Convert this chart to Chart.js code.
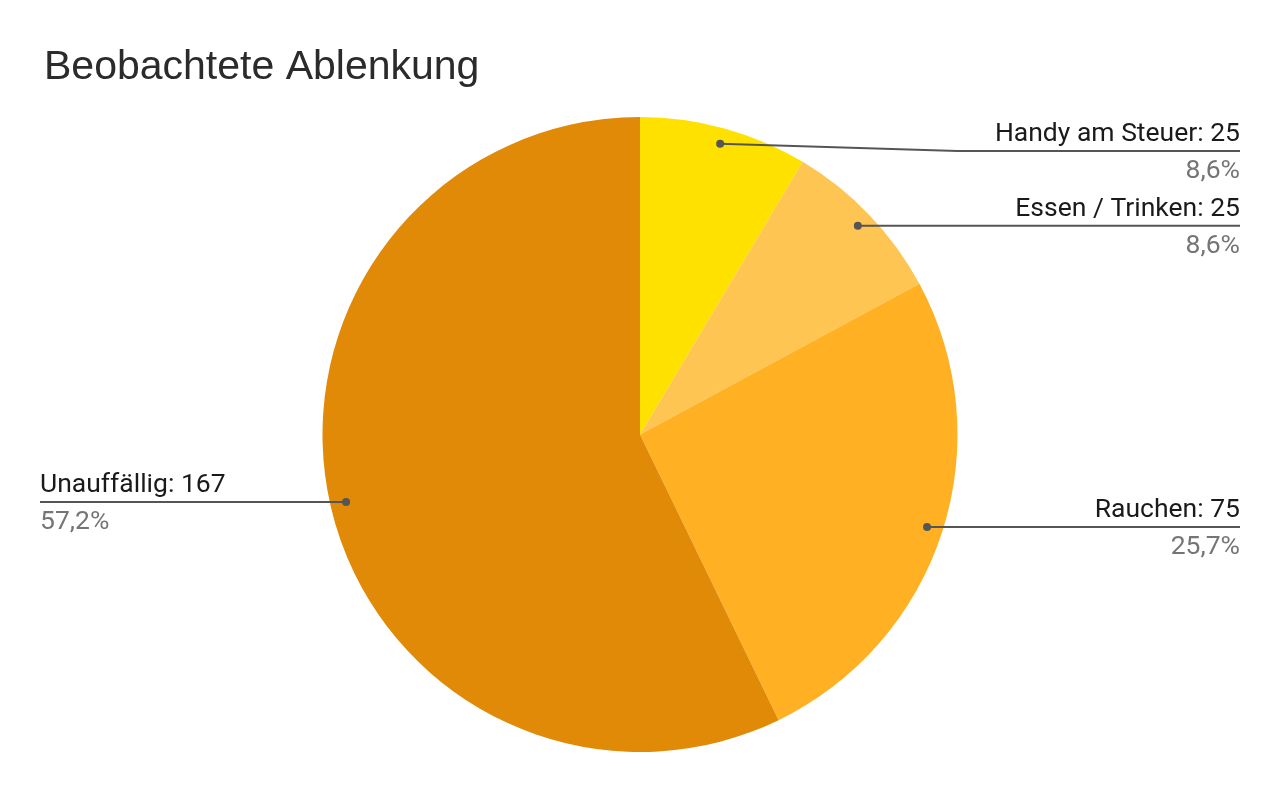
<!DOCTYPE html>
<html lang="de">
<head>
<meta charset="utf-8">
<title>Beobachtete Ablenkung</title>
<script src="https://cdn.jsdelivr.net/npm/chart.js@4/dist/chart.umd.min.js"></script>
<style>
    html, body { margin: 0; padding: 0; background: #fff; }
    #chart { display: block; }
</style>
</head>
<body>
<canvas id="chart" width="1280" height="792"></canvas>
<script>
// Chart data
const chartTitle = 'Beobachtete Ablenkung';
const categories = ['Handy am Steuer', 'Essen / Trinken', 'Rauchen', 'Unauffällig'];
const counts = [25, 25, 75, 167];
const sliceColors = ['#FFE100', '#FFC552', '#FFB023', '#E08A08'];

const total = counts.reduce((sum, v) => sum + v, 0);

// Format percentage the German way (comma decimal)
function formatPercent(value) {
    return (value / total * 100).toFixed(1).replace('.', ',') + '%';
}

// Draws the title and the leader-line labels
const leaderLabels = {
    id: 'leaderLabels',
    afterDraw(chart) {
        const ctx = chart.ctx;
        const area = chart.chartArea;
        const arcs = chart.getDatasetMeta(0).data;
        const labelFont = '26.5px Roboto';
        const lineColor = '#555555';

        ctx.save();

        // Title
        ctx.font = '41px "Liberation Sans", Arial, sans-serif';
        ctx.fillStyle = '#2b2b2b';
        ctx.textAlign = 'left';
        ctx.textBaseline = 'alphabetic';
        ctx.fillText(chartTitle, 44, 79);

        // Work out anchor points on each slice
        const items = arcs.map((arc, i) => {
            const mid = (arc.startAngle + arc.endAngle) / 2;
            const r = arc.outerRadius * 0.95;
            return {
                index: i,
                right: Math.cos(mid) >= 0,
                px: arc.x + Math.cos(mid) * r,
                py: arc.y + Math.sin(mid) * r,
                cx: arc.x,
                radius: arc.outerRadius
            };
        });

        // Keep labels inside the chart and apart from each other
        [true, false].forEach(side => {
            const group = items.filter(it => it.right === side).sort((a, b) => a.py - b.py);
            let minY = area.top + 34;
            group.forEach(it => {
                it.ly = Math.max(it.py, minY);
                minY = it.ly + 70;
            });
        });

        items.forEach(it => {
            const edgeX = it.right ? chart.width - 40 : 40;
            const bendX = it.right ? it.cx + it.radius : it.cx - it.radius;

            // Leader line
            ctx.strokeStyle = lineColor;
            ctx.lineWidth = 2;
            ctx.beginPath();
            ctx.moveTo(it.px, it.py);
            if (Math.abs(it.ly - it.py) > 0.5) {
                ctx.lineTo(bendX, it.ly);
            }
            ctx.lineTo(edgeX, it.ly);
            ctx.stroke();

            // Dot on the slice
            ctx.fillStyle = lineColor;
            ctx.beginPath();
            ctx.arc(it.px, it.py, 4, 0, Math.PI * 2);
            ctx.fill();

            // Texts
            ctx.textAlign = it.right ? 'right' : 'left';
            ctx.font = labelFont;
            ctx.fillStyle = '#1a1a1a';
            ctx.fillText(categories[it.index] + ': ' + counts[it.index], edgeX, it.ly - 10);
            ctx.fillStyle = '#757575';
            ctx.fillText(formatPercent(counts[it.index]), edgeX, it.ly + 27);
        });

        ctx.restore();
    }
};

const ctx = document.getElementById('chart').getContext('2d');
new Chart(ctx, {
    type: 'pie',
    data: {
        labels: categories,
        datasets: [{
            data: counts,
            backgroundColor: sliceColors,
            borderWidth: 0
        }]
    },
    options: {
        responsive: false,
        animation: false,
        layout: {
            padding: { top: 117, bottom: 40, left: 300, right: 300 }
        },
        plugins: {
            legend: { display: false },
            tooltip: { enabled: false },
            title: { display: false }
        }
    },
    plugins: [leaderLabels]
});
</script>
</body>
</html>
